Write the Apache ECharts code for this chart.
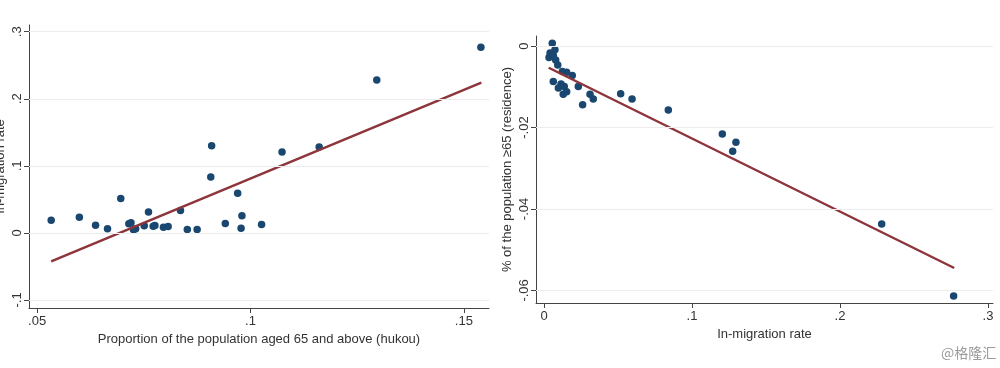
<!DOCTYPE html>
<html>
<head>
<meta charset="utf-8">
<script src="https://cdn.jsdelivr.net/npm/echarts@6/dist/echarts.min.js"></script>
<style>html,body{margin:0;padding:0;background:#fff;}#c{width:1000px;height:368px;}</style>
</head>
<body>
<div id="c"></div>
<script>
// Left panel: proportion aged 65+ (hukou) vs in-migration rate
const leftX = [0.0533,0.0599,0.0637,0.0665,0.0696,0.0715,0.0720,0.0726,0.0731,0.0751,0.0761,0.0772,0.0776,0.0796,0.0807,0.0836,0.0852,0.0875,0.0907,0.0909,0.0941,0.0970,0.0980,0.0978,0.1026,0.1074,0.1161,0.1296,0.1540];
const leftY = [0.019,0.0234,0.0114,0.006,0.0514,0.0135,0.015,0.0045,0.006,0.0105,0.031,0.0099,0.011,0.0084,0.0095,0.0334,0.005,0.005,0.0834,0.130,0.014,0.059,0.0255,0.007,0.0125,0.1205,0.128,0.228,0.277];
const leftFitX = [0.0533, 0.1541];
const leftFitY = [-0.0426, 0.224];
// Right panel: in-migration rate vs residual % aged 65+
const rightX = [0.0056,0.0074,0.0041,0.0034,0.0063,0.0079,0.0093,0.0124,0.0153,0.0191,0.0063,0.0115,0.0097,0.0137,0.0153,0.0130,0.0232,0.0311,0.0333,0.0261,0.0518,0.0595,0.0840,0.1205,0.1297,0.1275,0.2282,0.2768];
const rightY = [0.0007,-0.0009,-0.0017,-0.0028,-0.0023,-0.0034,-0.0046,-0.0062,-0.0064,-0.0072,-0.0087,-0.0093,-0.0103,-0.0099,-0.0112,-0.0118,-0.0099,-0.0118,-0.0130,-0.0144,-0.0117,-0.0130,-0.0157,-0.0216,-0.0236,-0.0258,-0.0437,-0.0614];
const rightFitX = [0.0032, 0.2772];
const rightFitY = [-0.0053, -0.0545];
// Tick values and labels
const leftXTicks = [0.05, 0.1, 0.15];
const leftXTickLabels = ['.05', '.1', '.15'];
const leftYTicks = [-0.1, 0, 0.1, 0.2, 0.3];
const leftYTickLabels = ['-.1', '0', '.1', '.2', '.3'];
const rightXTicks = [0, 0.1, 0.2, 0.3];
const rightXTickLabels = ['0', '.1', '.2', '.3'];
const rightYTicks = [-0.06, -0.04, -0.02, 0];
const rightYTickLabels = ['-.06', '-.04', '-.02', '0'];

const zip = (a, b) => a.map((v, i) => [v, b[i]]);
const fmt = (ticks, labels) => (v) => {
  for (let i = 0; i < ticks.length; i++) if (Math.abs(ticks[i] - v) < 1e-9) return labels[i];
  return '';
};
const FONT = 'Liberation Sans, Arial, sans-serif';
const AXC = '#444';
const TXT = '#333';
const DOT = '#1a476f';
const FIT = '#8e353b';

function xAxis(gi, min, max, ticks, labels, name, nameGap) {
  return {
    type: 'value', gridIndex: gi, min: min, max: max,
    name: name, nameLocation: 'middle', nameGap: nameGap,
    nameTextStyle: {color: TXT, fontSize: 13, fontFamily: FONT},
    axisLine: {show: true, onZero: false, lineStyle: {color: AXC, width: 1}},
    axisTick: {show: true, length: 5, inside: false, customValues: ticks, lineStyle: {color: AXC}},
    axisLabel: {customValues: ticks, formatter: fmt(ticks, labels), color: TXT, fontSize: 13, fontFamily: FONT, margin: 7},
    splitLine: {show: false}
  };
}
function yAxis(gi, min, max, ticks, labels, name, nameGap) {
  return {
    type: 'value', gridIndex: gi, min: min, max: max,
    name: name, nameLocation: 'middle', nameGap: nameGap,
    nameTextStyle: {color: TXT, fontSize: 13, fontFamily: FONT},
    axisLine: {show: true, onZero: false, lineStyle: {color: AXC, width: 1}},
    axisTick: {show: true, length: 5, inside: false, customValues: ticks, lineStyle: {color: AXC}},
    axisLabel: {customValues: ticks, rotate: 90, formatter: fmt(ticks, labels), color: TXT, fontSize: 13, fontFamily: FONT, margin: 5},
    splitLine: {show: false}
  };
}
function grid(ticks) {
  return {
    silent: true, symbol: ['none', 'none'], animation: false,
    label: {show: false},
    lineStyle: {color: '#ececec', width: 1, type: 'solid'},
    data: ticks.map(v => ({yAxis: v}))
  };
}

const chart = echarts.init(document.getElementById('c'), null, {renderer: 'canvas'});
chart.setOption({
  backgroundColor: '#fff',
  animation: false,
  grid: [
    {left: 29, top: 25, width: 460, height: 283, containLabel: false, outerBoundsMode: 'none'},
    {left: 536, top: 36, width: 457, height: 267, containLabel: false, outerBoundsMode: 'none'}
  ],
  xAxis: [
    xAxis(0, 0.0481, 0.1559, leftXTicks, leftXTickLabels, 'Proportion of the population aged 65 and above (hukou)', 22),
    xAxis(1, -0.0054, 0.3034, rightXTicks, rightXTickLabels, 'In-migration rate', 23)
  ],
  yAxis: [
    yAxis(0, -0.112, 0.31, leftYTicks, leftYTickLabels, 'In-migration rate', 22),
    yAxis(1, -0.0631, 0.0025, rightYTicks, rightYTickLabels, '% of the population \u226565 (residence)', 22)
  ],
  series: [
    {type: 'scatter', xAxisIndex: 0, yAxisIndex: 0, data: zip(leftX, leftY), symbolSize: 7.5,
     itemStyle: {color: DOT, opacity: 1}, markLine: grid(leftYTicks), z: 3},
    {type: 'line', xAxisIndex: 0, yAxisIndex: 0, data: zip(leftFitX, leftFitY), showSymbol: false,
     lineStyle: {color: FIT, width: 2.5}, z: 4},
    {type: 'scatter', xAxisIndex: 1, yAxisIndex: 1, data: zip(rightX, rightY), symbolSize: 7.5,
     itemStyle: {color: DOT, opacity: 1}, markLine: grid(rightYTicks), z: 3},
    {type: 'line', xAxisIndex: 1, yAxisIndex: 1, data: zip(rightFitX, rightFitY), showSymbol: false,
     lineStyle: {color: FIT, width: 2.5}, z: 4}
  ],
  graphic: [
    {type: 'text', left: 941, top: 346, style: {text: '@格隆汇', fill: '#9a9a9a', fontSize: 14, fontFamily: 'Noto Sans CJK SC'}}
  ]
});
</script>
</body>
</html>
